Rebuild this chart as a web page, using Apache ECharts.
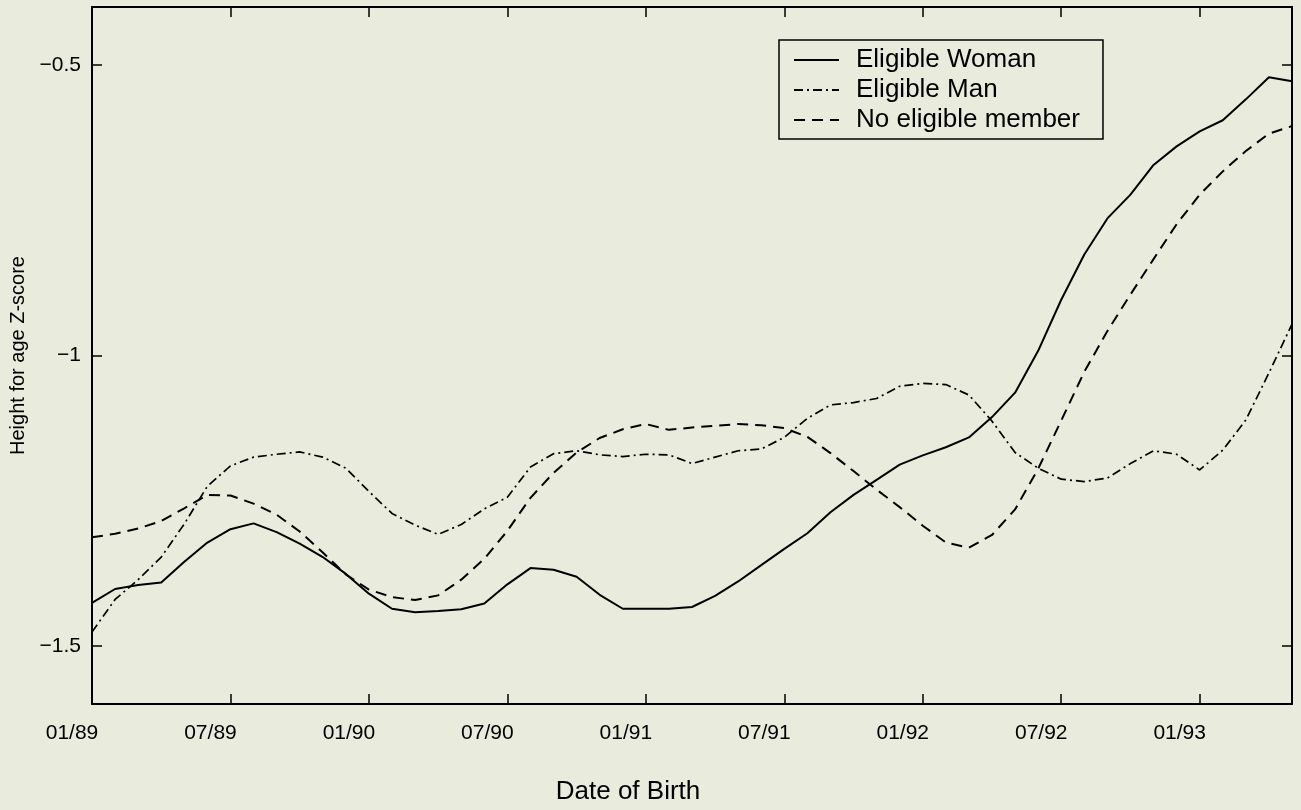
<!DOCTYPE html>
<html>
<head>
<meta charset="utf-8">
<script src="https://cdn.jsdelivr.net/npm/echarts@6/dist/echarts.min.js"></script>
<style>
  html, body { margin: 0; padding: 0; background: #e9ebdc; }
  #chart { width: 1301px; height: 810px; }
</style>
</head>
<body>
<div id="chart"></div>
<script>
// Birth months (category axis), Jan 1989 .. May 1993
const months = [
  '01/89','02/89','03/89','04/89','05/89','06/89','07/89','08/89','09/89','10/89','11/89','12/89',
  '01/90','02/90','03/90','04/90','05/90','06/90','07/90','08/90','09/90','10/90','11/90','12/90',
  '01/91','02/91','03/91','04/91','05/91','06/91','07/91','08/91','09/91','10/91','11/91','12/91',
  '01/92','02/92','03/92','04/92','05/92','06/92','07/92','08/92','09/92','10/92','11/92','12/92',
  '01/93','02/93','03/93','04/93','05/93'
];
// Month labels shown on the x axis
const xTickLabels = ['01/89','07/89','01/90','07/90','01/91','07/91','01/92','07/92','01/93'];
// y axis ticks
const yTickValues = [-1.5, -1, -0.5];
const yTickLabels = ['\u22121.5', '\u22121', '\u22120.5'];

const seriesNames = ['Eligible Woman', 'Eligible Man', 'No eligible member'];

const eligibleWoman = [
  -1.426,-1.402,-1.395,-1.391,-1.355,-1.322,-1.299,-1.289,-1.304,-1.324,-1.347,-1.376,
  -1.410,-1.436,-1.442,-1.440,-1.437,-1.427,-1.394,-1.366,-1.369,-1.381,-1.412,-1.436,
  -1.436,-1.436,-1.433,-1.414,-1.389,-1.361,-1.333,-1.306,-1.270,-1.240,-1.214,-1.188,
  -1.172,-1.158,-1.141,-1.106,-1.064,-0.992,-0.904,-0.826,-0.764,-0.723,-0.672,-0.640,
  -0.614,-0.595,-0.559,-0.521,-0.528
];
const eligibleMan = [
  -1.476,-1.420,-1.386,-1.347,-1.290,-1.225,-1.190,-1.175,-1.170,-1.166,-1.175,-1.194,
  -1.234,-1.272,-1.292,-1.308,-1.291,-1.264,-1.244,-1.192,-1.169,-1.164,-1.171,-1.174,
  -1.170,-1.171,-1.186,-1.175,-1.164,-1.161,-1.141,-1.108,-1.085,-1.081,-1.074,-1.053,
  -1.048,-1.050,-1.068,-1.113,-1.167,-1.194,-1.213,-1.217,-1.211,-1.186,-1.164,-1.170,
  -1.197,-1.163,-1.111,-1.030,-0.946
];
const noEligible = [
  -1.313,-1.307,-1.298,-1.285,-1.263,-1.240,-1.241,-1.255,-1.274,-1.303,-1.339,-1.377,
  -1.403,-1.416,-1.421,-1.413,-1.386,-1.350,-1.302,-1.245,-1.202,-1.167,-1.142,-1.127,
  -1.118,-1.128,-1.124,-1.121,-1.118,-1.120,-1.125,-1.140,-1.168,-1.199,-1.231,-1.261,
  -1.293,-1.322,-1.331,-1.309,-1.265,-1.195,-1.112,-1.028,-0.958,-0.895,-0.834,-0.774,
  -0.723,-0.683,-0.648,-0.618,-0.605
];

const FONT = '"Liberation Sans", Arial, Helvetica, sans-serif';
const isTick = (idx, val) => xTickLabels.indexOf(val) >= 0;

const chart = echarts.init(document.getElementById('chart'), null, { renderer: 'canvas' });

const baseX = {
  type: 'category',
  data: months,
  boundaryGap: false,
  axisLine: { show: true, onZero: false, lineStyle: { color: '#000', width: 2 } },
  axisTick: { show: true, inside: true, length: 10, interval: isTick, lineStyle: { color: '#000', width: 1.5 } },
  splitLine: { show: false }
};
const baseY = {
  type: 'value',
  min: -1.6,
  max: -0.4,
  axisLine: { show: true, onZero: false, lineStyle: { color: '#000', width: 2 } },
  axisTick: { show: true, inside: true, length: 10, customValues: yTickValues, lineStyle: { color: '#000', width: 1.5 } },
  splitLine: { show: false }
};

chart.setOption({
  backgroundColor: '#e9ebdc',
  animation: false,
  textStyle: { fontFamily: FONT },
  grid: { left: 92, right: 9, top: 7, bottom: 103, containLabel: false },
  legend: {
    data: seriesNames,
    orient: 'vertical',
    left: 779,
    top: 40,
    padding: [7, 23, 6, 14],
    itemGap: 4,
    itemWidth: 45,
    itemHeight: 14,
    itemStyle: { opacity: 0, borderWidth: 0 },
    backgroundColor: '#e9ebdc',
    borderColor: '#000',
    borderWidth: 1.5,
    textStyle: { fontFamily: FONT, fontSize: 26, color: '#000', lineHeight: 26, padding: [0, 0, 0, 12] }
  },
  xAxis: [
    Object.assign({}, baseX, {
      position: 'bottom',
      axisLabel: {
        show: true, interval: isTick, fontFamily: FONT, fontSize: 21, color: '#000', margin: 19,
        align: 'center', padding: [0, 40, 0, 0]
      },
      name: 'Date of Birth',
      nameLocation: 'middle',
      nameGap: 75,
      nameTextStyle: { fontFamily: FONT, fontSize: 26, color: '#000', padding: [0, 128, 0, 0] }
    }),
    Object.assign({}, baseX, {
      position: 'top',
      axisLabel: { show: false }
    })
  ],
  yAxis: [
    Object.assign({}, baseY, {
      position: 'left',
      axisLabel: {
        show: true, customValues: yTickValues, fontFamily: FONT, fontSize: 21, color: '#000', margin: 11,
        formatter: v => { const i = yTickValues.indexOf(v); return i >= 0 ? yTickLabels[i] : ''; }
      },
      name: 'Height for age Z-score',
      nameLocation: 'middle',
      nameGap: 64,
      nameTextStyle: { fontFamily: FONT, fontSize: 20, color: '#000' }
    }),
    Object.assign({}, baseY, {
      position: 'right',
      axisLabel: { show: false }
    })
  ],
  series: [
    {
      name: seriesNames[0], type: 'line', data: eligibleWoman, symbol: 'none', smooth: false,
      lineStyle: { color: '#000', width: 2, type: 'solid' }, itemStyle: { color: '#000' }
    },
    {
      name: seriesNames[1], type: 'line', data: eligibleMan, symbol: 'none', smooth: false,
      lineStyle: { color: '#000', width: 1.7, type: [9, 4, 2, 4] }, itemStyle: { color: '#000' }
    },
    {
      name: seriesNames[2], type: 'line', data: noEligible, symbol: 'none', smooth: false,
      lineStyle: { color: '#000', width: 2, type: [11, 7] }, itemStyle: { color: '#000' }
    }
  ]
});
</script>
</body>
</html>
